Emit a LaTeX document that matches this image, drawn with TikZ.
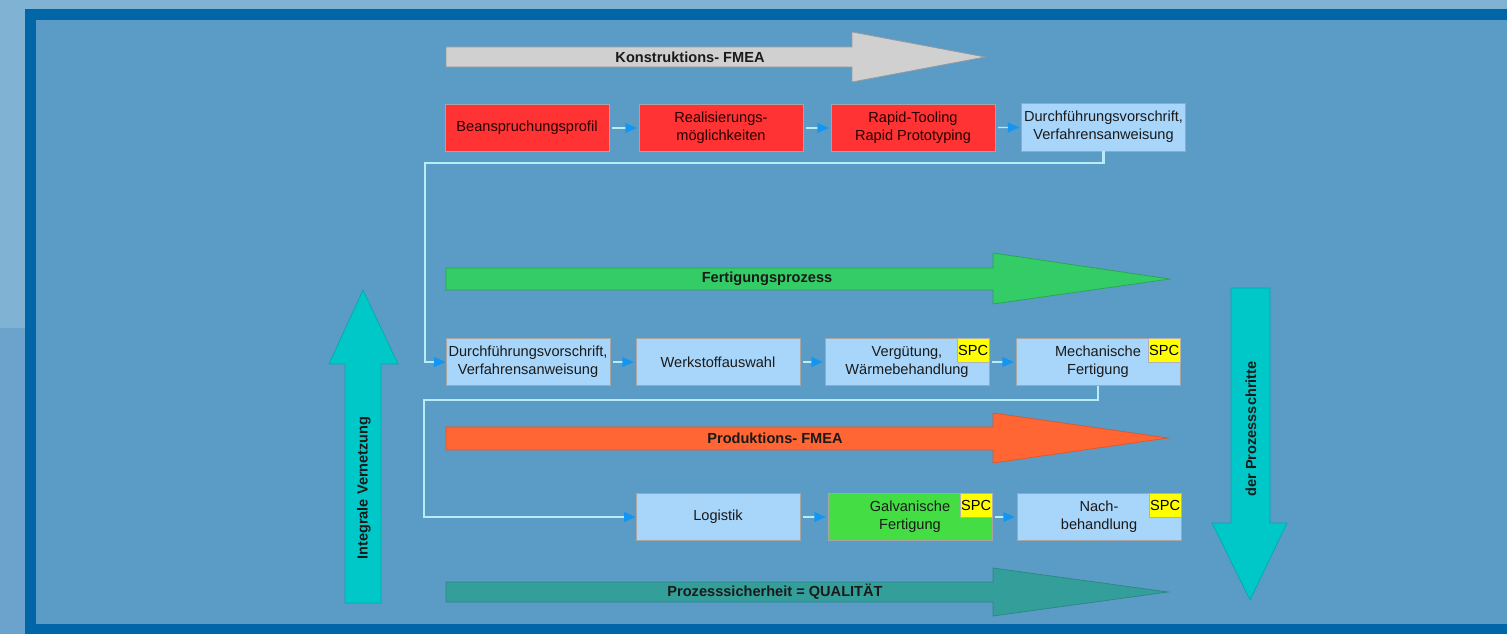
\documentclass[tikz,border=0pt]{standalone}
\usepackage{fontspec}
\setmainfont{Liberation Sans}
\usetikzlibrary{arrows.meta}
\definecolor{outerlight}{HTML}{80B3D3}
\definecolor{outerlow}{HTML}{6BA3CD}
\definecolor{frameblue}{HTML}{0066A8}
\definecolor{innerblue}{HTML}{5B9CC7}
\definecolor{redbox}{HTML}{FF3333}
\definecolor{lightbox}{HTML}{A8D5FA}
\definecolor{greenbox}{HTML}{44DD44}
\definecolor{spcyellow}{HTML}{FFFF00}
\definecolor{grayarr}{HTML}{D0D0D0}
\definecolor{greenarr}{HTML}{33CC66}
\definecolor{orangearr}{HTML}{FF6633}
\definecolor{tealarr}{HTML}{339E9A}
\definecolor{cyanarr}{HTML}{00C8C8}
\definecolor{connline}{HTML}{B8ECF8}
\definecolor{tipblue}{HTML}{1296F2}
\definecolor{textdark}{HTML}{1A1A1A}
\tikzset{
  boxtext/.style={font=\fontsize{8.3}{10.2}\selectfont, align=center, text=textdark},
  procbox/.style={boxtext, draw=gray!70, line width=0.5pt, minimum width=3.28cm, minimum height=0.94cm, inner sep=1pt},
  redproc/.style={procbox, fill=redbox, text=black!85!red},
  blueproc/.style={procbox, fill=lightbox},
  greenproc/.style={procbox, fill=greenbox},
  spcbox/.style={draw=gray!60, fill=spcyellow, font=\fontsize{8.3}{10}\selectfont, minimum width=0.64cm, minimum height=0.48cm, inner sep=0pt, anchor=north east},
  arrlabel/.style={font=\bfseries\fontsize{8.3}{10}\selectfont, text=textdark},
  bigarrow/.style={line width=0.4pt},
  smallarr/.style={draw=connline, line width=0.8pt, shorten <=1.5pt, shorten >=1pt, -{Triangle[length=6.5pt,width=5.5pt,color=tipblue]}},
  connector/.style={draw=connline, line width=1.2pt, -{Triangle[length=6.5pt,width=5.5pt,color=tipblue]}},
}
\begin{document}
\begin{tikzpicture}[x=0.02cm, y=-0.02cm]
\useasboundingbox (0,0) rectangle (1507,634);
% background
\fill[outerlight] (0,0) rectangle (1507,634);
\fill[outerlow] (0,328) rectangle (25,634);
\fill[frameblue] (25,9) rectangle (1507,634);
\fill[innerblue] (36,20) rectangle (1507,624);

% big horizontal arrows
\filldraw[bigarrow, fill=grayarr, draw=gray!80] (446,47) -- (852,47) -- (852,32) -- (985,57) -- (852,82) -- (852,67) -- (446,67) -- cycle;
\node[arrlabel] (lkon) at (690,57) {Konstruktions- FMEA};

\filldraw[bigarrow, fill=greenarr, draw=greenarr!80!black] (446,268) -- (993,268) -- (993,253) -- (1170,279) -- (993,304) -- (993,290) -- (446,290) -- cycle;
\node[arrlabel] (lfert) at (767,279) {Fertigungsprozess};

\filldraw[bigarrow, fill=orangearr, draw=orangearr!85!black] (446,427) -- (993,427) -- (993,413) -- (1168,438) -- (993,463) -- (993,450) -- (446,450) -- cycle;
\node[arrlabel] (lprod) at (775,438) {Produktions- FMEA};

\filldraw[bigarrow, fill=tealarr, draw=tealarr!85!black] (446,582) -- (993,582) -- (993,568) -- (1168,592) -- (993,616) -- (993,602) -- (446,602) -- cycle;
\node[arrlabel] (lqual) at (775,592) {Prozesssicherheit = QUALITÄT};

% vertical arrows
\filldraw[bigarrow, fill=cyanarr, draw=cyanarr!85!black] (345,603) -- (345,364) -- (329,364) -- (363,290) -- (398,364) -- (381,364) -- (381,603) -- cycle;
\node[arrlabel, rotate=90] (lint) at (364,488) {Integrale Vernetzung};

\filldraw[bigarrow, fill=cyanarr, draw=cyanarr!85!black] (1231,288) -- (1270,288) -- (1270,523) -- (1287,523) -- (1250,600) -- (1212,523) -- (1231,523) -- cycle;
\node[arrlabel, rotate=90] (lproz) at (1251,429) {der Prozessschritte};

% row 1
\node[redproc] (b1) at (527,128) {Beanspruchungsprofil};
\node[redproc] (b2) at (721,128) {Realisierungs-\\möglichkeiten};
\node[redproc] (b3) at (913,128) {Rapid-Tooling\\Rapid Prototyping};
\node[blueproc, minimum height=0.96cm] (b4) at (1103.5,127) {Durchführungsvorschrift,\\Verfahrensanweisung};

% row 2
\node[blueproc] (b5) at (528,362) {Durchführungsvorschrift,\\Verfahrensanweisung};
\node[blueproc] (b6) at (718,362) {Werkstoffauswahl};
\node[blueproc] (b7) at (907,362) {Vergütung,\\Wärmebehandlung};
\node[blueproc] (b8) at (1098,362) {Mechanische\\Fertigung};
\node[spcbox] (s7) at (b7.north east) {SPC};
\node[spcbox] (s8) at (b8.north east) {SPC};

% row 3
\node[blueproc] (b9) at (718,517) {Logistik};
\node[greenproc] (b10) at (910,517) {Galvanische\\Fertigung};
\node[blueproc] (b11) at (1099,517) {Nach-\\behandlung};
\node[spcbox] (s10) at (b10.north east) {SPC};
\node[spcbox] (s11) at (b11.north east) {SPC};

\coordinate (c1) at (425,163);
\coordinate (c2) at (424,400);

% small arrows
\draw[smallarr] (b1) -- (b2);
\draw[smallarr] (b2) -- (b3);
\draw[smallarr] (b3) -- (b4);
\draw[smallarr] (b5) -- (b6);
\draw[smallarr] (b6) -- (b7);
\draw[smallarr] (b7) -- (b8);
\draw[smallarr] (b9) -- (b10);
\draw[smallarr] (b10) -- (b11);
% connectors between rows
\draw[connector] (b4.south) |- (c1) |- (b5.west);
\draw[connector] (b8.south) |- (c2) |- (b9.west);
\end{tikzpicture}
\end{document}
